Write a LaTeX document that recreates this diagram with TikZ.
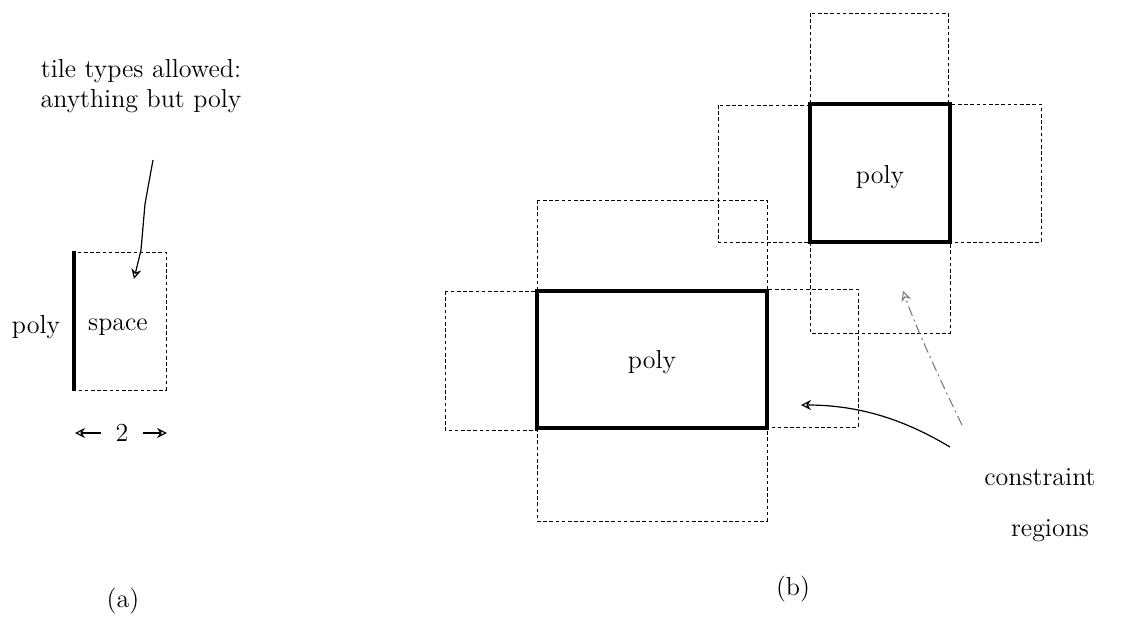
\documentclass[tikz,border=0pt]{standalone}
\usetikzlibrary{arrows.meta}
\begin{document}
\begin{tikzpicture}[x=0.5pt,y=-0.5pt,
  font=\fontsize{13}{15}\selectfont,
  region/.style={draw, line width=0.5pt, dash pattern=on 1.8pt off 1.3pt},
  polybox/.style={draw, line width=1.9pt},
  hand/.style={line width=0.6pt, -{Stealth[open,length=5pt,width=5pt]}},
  faint/.style={line width=0.5pt, black!55, dash pattern=on 5pt off 2pt on 1pt off 2pt, -{Stealth[open,length=5pt,width=5pt]}}]
\useasboundingbox (0,0) rectangle (1129,638);

% ---- (a) a space tile next to poly ----
\draw[region] (74,252) rectangle (166,390);
\draw[polybox] (74,251) -- (74,391);
\node (lpoly) at (36,327) {poly};
\node (space) at (118,327) {space};
\node[align=center] (tile) at (141,86) {tile types allowed:\\anything but poly};
\coordinate (tfrom) at (153,160);
\coordinate (tto) at (134,279);
\draw[hand] (tfrom) -- (145,204) -- (141,250) -- (tto);
\node (two) at (122,433) {2};
\coordinate (wl) at (75,433);
\coordinate (wr) at (167,433);
\draw[hand] (two.west) ++(-8,0) -- (wl);
\draw[hand] (two.east) ++(8,0) -- (wr);
\node (capa) at (123,601) {(a)};

% ---- (b) constraint regions around poly tiles ----
% regions of the lower poly tile
\draw[region] (445,291) rectangle (537,430);
\draw[region] (767,289) rectangle (858,427);
\draw[region] (537,200) rectangle (767,291);
\draw[region] (537,428) rectangle (767,521);
% regions of the upper poly tile
\draw[region] (810,13) rectangle (948,104);
\draw[region] (718,105) rectangle (810,242);
\draw[region] (950,104) rectangle (1041,242);
\draw[region] (810,242) rectangle (950,333);
% the poly tiles
\draw[polybox] (537,291) rectangle (767,428);
\draw[polybox] (810,104) rectangle (950,242);
\node (p1) at (652,362) {poly};
\node (p2) at (880,177) {poly};

\node (cons) at (1040,477) {constraint};
\node (regs) at (1050,531) {regions};
\coordinate (a1) at (950,447);
\coordinate (a1e) at (801,405);
\coordinate (a2) at (962,425);
\coordinate (a2e) at (903,291);
\draw[hand] (a1) .. controls (905,420) and (860,405) .. (a1e);
\draw[faint] (a2) .. controls (940,380) and (915,325) .. (a2e);
\node (capb) at (793,589) {(b)};
\end{tikzpicture}
\end{document}
